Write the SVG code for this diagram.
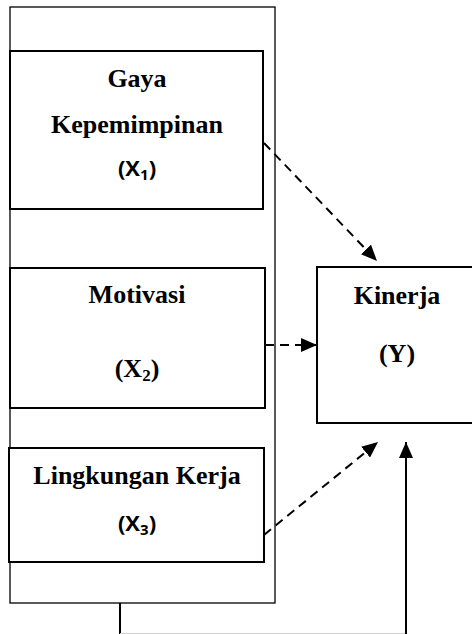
<svg xmlns="http://www.w3.org/2000/svg" width="472" height="634" viewBox="0 0 472 634">
<style>
.box{fill:#fff;stroke:#000;stroke-width:2}
.outer{fill:none;stroke:#000;stroke-width:1.3}
.t{font-family:"Liberation Serif","Times New Roman",serif;font-weight:bold;font-size:26px;fill:#000;text-anchor:middle}
.s{font-family:"Open Sans","Liberation Sans",sans-serif;font-weight:bold;font-size:22px;fill:#000;text-anchor:middle}
.dash{stroke:#000;stroke-width:2;stroke-dasharray:9,6;fill:none}
.solid{stroke:#000;stroke-width:2;fill:none}
</style>
<defs>
<marker id="ah" markerUnits="userSpaceOnUse" markerWidth="16" markerHeight="14" refX="16" refY="7" orient="auto">
<path d="M0,0 L16,7 L0,14 z" fill="#000"/>
</marker>
</defs>
<rect id="group-frame" class="outer" x="10" y="7" width="265" height="596"/>
<g id="x1">
<rect class="box" x="10" y="51" width="253" height="158"/>
<text class="t" x="137" y="87">Gaya</text>
<text class="t" x="137" y="133">Kepemimpinan</text>
<text class="s" x="137" y="176">(X<tspan font-size="15" dy="4">1</tspan><tspan dy="-4">)</tspan></text>
</g>
<g id="x2">
<rect class="box" x="10" y="268" width="255" height="140"/>
<text class="t" x="137" y="303">Motivasi</text>
<text class="t" x="137" y="377">(X<tspan font-size="17" dy="4">2</tspan><tspan dy="-4">)</tspan></text>
</g>
<g id="x3">
<rect class="box" x="9" y="448" width="255" height="114"/>
<text class="t" x="137" y="484">Lingkungan Kerja</text>
<text class="s" x="137" y="531">(X<tspan font-size="15" dy="4">3</tspan><tspan dy="-4">)</tspan></text>
</g>
<g id="y">
<rect class="box" x="317" y="267" width="170" height="156"/>
<text class="t" x="397" y="304">Kinerja</text>
<text class="t" x="397" y="362">(Y)</text>
</g>
<g id="connectors">
<line class="dash" x1="264" y1="143" x2="377" y2="261" marker-end="url(#ah)"/>
<line class="dash" x1="265" y1="345" x2="317" y2="345" marker-end="url(#ah)"/>
<line class="dash" x1="264" y1="535" x2="378" y2="442" marker-end="url(#ah)"/>
<line class="solid" x1="120" y1="603" x2="120" y2="634"/>
<line x1="120" y1="633.5" x2="406" y2="633.5" stroke="#d0d0d0" stroke-width="1"/>
<line class="solid" x1="406" y1="634" x2="406" y2="442" marker-end="url(#ah)"/>
</g>
</svg>
